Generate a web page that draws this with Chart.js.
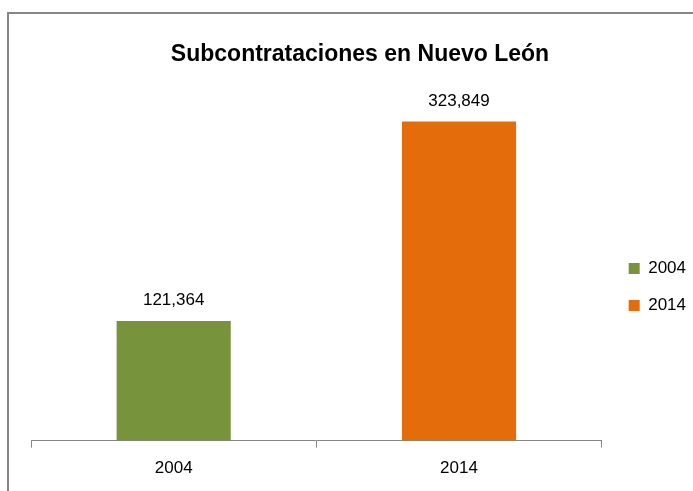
<!DOCTYPE html>
<html>
<head>
<meta charset="utf-8">
<script src="https://cdn.jsdelivr.net/npm/chart.js@4"></script>
<style>
	html, body { margin: 0; padding: 0; background: #fff; overflow: hidden; }
	#frame {
		position: absolute; left: 7px; top: 12px; width: 700px; height: 500px;
		border-left: 2px solid #868686; border-top: 2px solid #868686;
	}
	#wrap { position: absolute; left: 0; top: 0; width: 694px; height: 477px; }
</style>
</head>
<body>
<div id="frame"><div id="wrap"><canvas id="myChart"></canvas></div></div>
<script>
var categories = ['2004', '2014']
var seriesNames = ['2004', '2014']
var seriesValues = [121364, 323849]
var seriesColors = ['#77933C', '#E46C0A']
var titleText = 'Subcontrataciones en Nuevo León'
var fontFamily = "'Liberation Sans', Arial, sans-serif"

var datasets = seriesNames.map(function(name, i) {
	var values = categories.map(function(c, j) { return j === i ? seriesValues[i] : null })
	return {
		label: name,
		data: values,
		backgroundColor: seriesColors[i],
		borderWidth: 0,
		grouped: false,
		barPercentage: 0.4,
		categoryPercentage: 1,
	}
})

// numbers above the bars
var valueLabels = {
	id: 'valueLabels',
	afterDatasetsDraw: function(chart) {
		var c = chart.ctx
		c.save()
		c.font = '17px ' + fontFamily
		c.fillStyle = '#000'
		c.textAlign = 'center'
		c.textBaseline = 'bottom'
		chart.data.datasets.forEach(function(ds, i) {
			chart.getDatasetMeta(i).data.forEach(function(el, j) {
				if (ds.data[j] == null) return
				c.fillText(ds.data[j].toLocaleString('en-US'), el.x, el.y - 12)
			})
		})
		c.restore()
	}
}

// nudge the legend a bit right and down, like the original
var legendShift = {
	id: 'legendShift',
	afterLayout: function(chart) {
		var l = chart.legend
		l.left += 7
		l.right += 7
		l.top += 35
		l.bottom += 35
	}
}

var ctx = document.getElementById('myChart')
var chart = new Chart(ctx, {
	type: 'bar',
	data: { labels: categories, datasets: datasets },
	plugins: [valueLabels, legendShift],
	options: {
		responsive: true,
		maintainAspectRatio: false,
		animation: false,
		layout: { padding: { left: 22, right: 14, top: 0, bottom: 1 } },
		plugins: {
			title: {
				display: true,
				text: titleText,
				color: '#000',
				font: { family: fontFamily, size: 23, weight: 'bold' },
				padding: { top: 27, bottom: 27 },
			},
			legend: {
				position: 'right',
				labels: {
					boxWidth: 11,
					boxHeight: 11,
					padding: 20,
					color: '#000',
					font: { family: fontFamily, size: 17 },
				},
			},
			tooltip: { enabled: false },
		},
		scales: {
			x: {
				offset: true,
				border: { color: '#868686', width: 1 },
				grid: { offset: true, drawOnChartArea: false, drawTicks: true, tickLength: 7, color: '#868686' },
				ticks: { color: '#000', padding: 11, font: { family: fontFamily, size: 17 } },
			},
			y: {
				display: false,
				min: 0,
				max: 350000,
			},
		},
	},
})
</script>
</body>
</html>
